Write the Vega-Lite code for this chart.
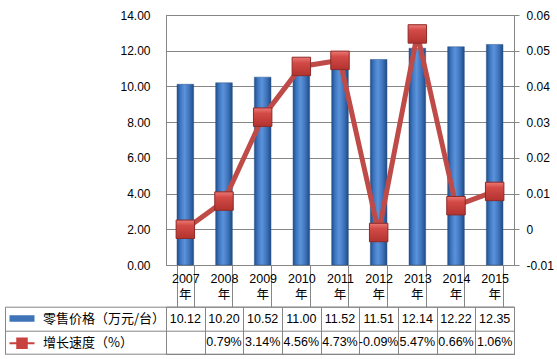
{
  "$schema": "https://vega.github.io/schema/vega-lite/v6.json",
  "padding": {"left": 4, "top": 8, "right": 0, "bottom": 0},
  "autosize": {"type": "pad"},
  "bounds": "flush",
  "spacing": 41.7,
  "datasets": {
    "d": [
      {"year": "2007", "price": 10.12, "growth": 0},
      {"year": "2008", "price": 10.20, "growth": 0.0079},
      {"year": "2009", "price": 10.52, "growth": 0.0314},
      {"year": "2010", "price": 11.00, "growth": 0.0456},
      {"year": "2011", "price": 11.52, "growth": 0.0473},
      {"year": "2012", "price": 11.51, "growth": -0.0009},
      {"year": "2013", "price": 12.14, "growth": 0.0547},
      {"year": "2014", "price": 12.22, "growth": 0.0066},
      {"year": "2015", "price": 12.35, "growth": 0.0106}
    ]
  },
  "vconcat": [
    {
      "width": 348,
      "height": 250,
      "data": {"name": "d"},
      "layer": [
        {
          "mark": {
            "type": "bar",
            "fill": {
              "gradient": "linear", "x1": 0, "y1": 0, "x2": 1, "y2": 0,
              "stops": [
                {"offset": 0, "color": "#1F4E8C"},
                {"offset": 0.2, "color": "#3D75C0"},
                {"offset": 0.45, "color": "#5B93DA"},
                {"offset": 0.75, "color": "#3D72BA"},
                {"offset": 1, "color": "#1D4A84"}
              ]
            },
            "stroke": "#2A5387",
            "strokeWidth": 0.5
          },
          "encoding": {
            "x": {
              "field": "year", "type": "nominal", "sort": null,
              "scale": {"paddingInner": 0.57, "paddingOuter": 0.285},
              "axis": {
                "title": null, "orient": "bottom", "tickBand": "extent",
                "ticks": true, "tickSize": 41.7, "tickColor": "#868686",
                "domain": false, "labelAngle": 0,
                "labelBaseline": "top", "labelPadding": -34.7,
                "labelFontSize": 12.5, "labelColor": "#000000"
              }
            },
            "y": {
              "field": "price", "type": "quantitative",
              "scale": {"domain": [0, 14]},
              "axis": {
                "title": null, "values": [0, 2, 4, 6, 8, 10, 12, 14],
                "format": ".2f", "grid": true, "ticks": false, "domain": true,
                "domainColor": "#868686", "gridColor": "#868686",
                "labelPadding": 16, "labelFontSize": 12, "labelColor": "#000000"
              }
            }
          }
        },
        {
          "mark": {
            "type": "line", "color": "#BE4B48", "strokeWidth": 5,
            "point": {
              "shape": "square", "size": 340, "filled": true, "opacity": 1,
              "fill": {
                "gradient": "linear", "x1": 0, "y1": 0, "x2": 0, "y2": 1,
                "stops": [
                  {"offset": 0, "color": "#EC7A76"},
                  {"offset": 0.3, "color": "#D24A46"},
                  {"offset": 1, "color": "#B3332F"}
                ]
              },
              "stroke": "#8E2A27", "strokeWidth": 1
            }
          },
          "encoding": {
            "x": {
              "field": "year", "type": "nominal", "sort": null,
              "axis": {
                "title": null, "orient": "bottom", "ticks": false, "domain": false,
                "labelAngle": 0, "labelExpr": "'年'", "labelBaseline": "top",
                "labelPadding": 23.5, "labelFontSize": 12.5, "labelColor": "#000000",
                "labelFont": "Noto Sans CJK SC"
              }
            },
            "y": {
              "field": "growth", "type": "quantitative",
              "scale": {"domain": [-0.01, 0.06]},
              "axis": {
                "orient": "right", "title": null,
                "values": [-0.01, 0, 0.01, 0.02, 0.03, 0.04, 0.05, 0.06],
                "labelExpr": "toString(round(datum.value * 100) / 100)",
                "grid": false, "ticks": true, "tickSize": 5,
                "tickColor": "#868686", "domain": true, "domainColor": "#868686",
                "labelPadding": 7, "labelFontSize": 12, "labelColor": "#000000"
              }
            }
          }
        }
      ],
      "resolve": {"scale": {"y": "independent"}, "axis": {"x": "independent"}}
    },
    {
      "width": 348,
      "height": 47.3,
      "data": {"name": "d"},
      "layer": [
        {
          "mark": {"type": "text", "fontSize": 12.5, "color": "#000000"},
          "encoding": {
            "x": {
              "field": "year", "type": "nominal", "sort": null,
              "axis": {
                "title": null, "grid": true, "tickBand": "extent", "labels": false,
                "ticks": false, "domain": false, "gridColor": "#868686"
              }
            },
            "y": {
              "datum": "零售价格（万元/台）", "type": "nominal",
              "scale": {"domain": ["零售价格（万元/台）", "增长速度（%）"], "paddingInner": 0, "paddingOuter": 0},
              "axis": {
                "title": null, "orient": "left", "offset": 161, "tickSize": -161,
                "tickBand": "extent", "labels": false, "domain": true, "grid": true,
                "gridColor": "#868686", "tickColor": "#868686", "domainColor": "#868686",
                "minExtent": 0, "maxExtent": 0
              }
            },
            "text": {"field": "price", "type": "quantitative", "format": ".2f"}
          }
        },
        {
          "transform": [{"filter": "datum.year != '2007'"}],
          "mark": {"type": "text", "fontSize": 12.5, "color": "#000000"},
          "encoding": {
            "x": {"field": "year", "type": "nominal", "sort": null},
            "y": {"datum": "增长速度（%）", "type": "nominal"},
            "text": {"field": "growth", "type": "quantitative", "format": ".2%"}
          }
        },
        {
          "transform": [{"filter": "false"}],
          "mark": {"type": "point", "filled": true, "opacity": 1},
          "encoding": {
            "color": {
              "field": "series", "type": "nominal",
              "scale": {"domain": ["零售价格（万元/台）", "增长速度（%）"], "range": ["#3F73B8", "#C8423E"]},
              "legend": {
                "orient": "none", "legendX": -150.5, "legendY": 5.3, "title": null,
                "symbolSize": 100, "labelFontSize": 13, "labelColor": "#000000",
                "labelFont": "Noto Sans CJK SC", "rowPadding": 10.65, "labelOffset": 14.5,
                "symbolStrokeWidth": 0, "padding": 0
              }
            },
            "shape": {
              "field": "series", "type": "nominal",
              "scale": {
                "domain": ["零售价格（万元/台）", "增长速度（%）"],
                "range": ["M-2.5,-0.65H2.5V0.65H-2.5Z", "M-2.5,-0.2H2.5V0.2H-2.5Z M-1.15,-1.15H1.15V1.15H-1.15Z"]
              },
              "legend": {
                "orient": "none", "legendX": -150.5, "legendY": 5.3, "title": null,
                "symbolSize": 100, "labelFontSize": 13, "labelColor": "#000000",
                "labelFont": "Noto Sans CJK SC", "rowPadding": 10.65, "labelOffset": 14.5,
                "symbolStrokeWidth": 0, "padding": 0
              }
            }
          }
        }
      ]
    }
  ],
  "resolve": {"scale": {"color": "independent", "shape": "independent"}, "legend": {"color": "independent", "shape": "independent"}},
  "config": {
    "font": "Liberation Sans, Noto Sans CJK SC",
    "view": {"stroke": "#868686", "strokeWidth": 1},
    "axis": {"labelFont": "Liberation Sans, Noto Sans CJK SC"},
    "text": {"font": "Liberation Sans, Noto Sans CJK SC"},
    "locale": {"number": {"decimal": ".", "thousands": ",", "grouping": [3], "currency": ["", ""], "minus": "-"}}
  }
}
